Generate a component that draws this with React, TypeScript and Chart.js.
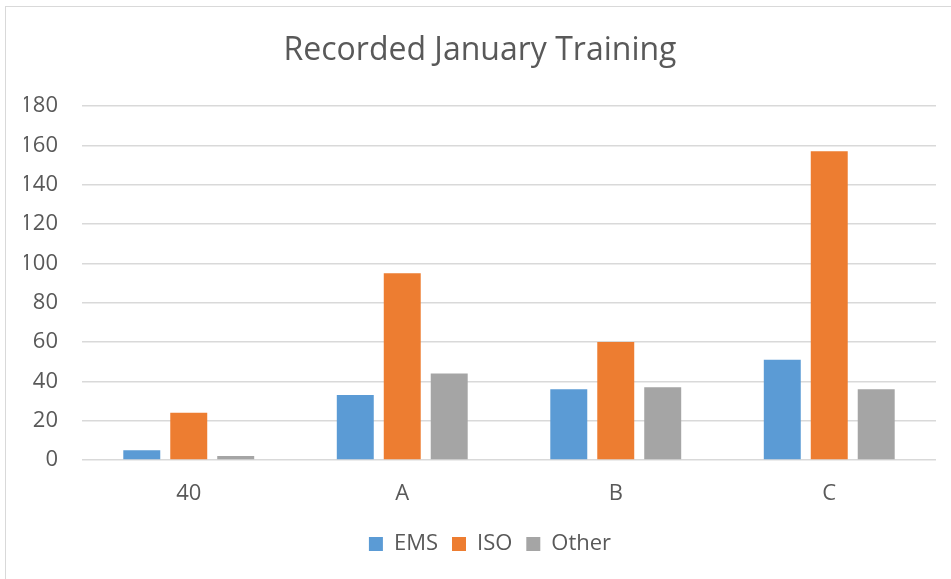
import React, { useEffect, useRef } from "react";
import { Chart, registerables } from "chart.js";

Chart.register(...registerables);

const categories = ["40", "A", "B", "C"];
const emsValues = [5, 33, 36, 51];
const isoValues = [24, 95, 60, 157];
const otherValues = [2, 44, 37, 36];
const seriesNames = ["EMS", "ISO", "Other"];
const yTicks = [0, 20, 40, 60, 80, 100, 120, 140, 160, 180];
const titleText = "Recorded January Training";

const FONT = "'Open Sans', 'Noto Sans', sans-serif";
const TEXT = "#595959";

const legendShift = {
  id: "legendShift",
  afterLayout(chart: any) {
    if (chart.legend) {
      chart.legend.left += 10;
      chart.legend.right += 10;
    }
  },
};

export default function App() {
  const ref = useRef<HTMLCanvasElement | null>(null);

  useEffect(() => {
    if (!ref.current) return;
    const chart = new Chart(ref.current, {
      type: "bar",
      data: {
        labels: categories,
        datasets: [
          { label: seriesNames[0], data: emsValues, backgroundColor: "#5B9BD5" },
          { label: seriesNames[1], data: isoValues, backgroundColor: "#ED7D31" },
          { label: seriesNames[2], data: otherValues, backgroundColor: "#A5A5A5" },
        ],
      },
      plugins: [legendShift],
      options: {
        animation: false,
        responsive: false,
        maintainAspectRatio: false,
        layout: { padding: { left: 14, right: 0, top: 0, bottom: 14 } },
        datasets: {
          bar: { categoryPercentage: 0.66, barPercentage: 0.787 },
        },
        plugins: {
          title: {
            display: true,
            text: titleText,
            color: TEXT,
            font: { family: FONT, size: 32, weight: "normal" },
            padding: { top: 32, bottom: 35.6 },
          },
          legend: {
            position: "bottom",
            labels: {
              color: TEXT,
              font: { family: FONT, size: 22 },
              boxWidth: 14,
              boxHeight: 14,
              padding: 14,
            },
          },
          tooltip: { enabled: false },
        },
        scales: {
          x: {
            grid: { display: false, drawTicks: false },
            border: { display: false },
            ticks: { color: TEXT, font: { family: FONT, size: 22 }, padding: 20.5 },
            afterFit: (s: any) => {
              s.height = 59;
            },
          },
          y: {
            min: 0,
            max: 180,
            afterBuildTicks: (s: any) => {
              s.ticks = yTicks.map((v) => ({ value: v }));
            },
            grid: { color: "#d9d9d9", lineWidth: 1.5, drawTicks: false },
            border: { display: false },
            ticks: { color: TEXT, font: { family: FONT, size: 22 }, padding: 24 },
            afterFit: (s: any) => {
              s.width = 58;
            },
          },
        },
      },
    });
    return () => chart.destroy();
  }, []);

  return (
    <div
      style={{
        position: "fixed",
        left: 0,
        top: 0,
        width: 951,
        height: 579,
        overflow: "hidden",
        background: "#fff",
      }}
    >
      <div
        style={{
          position: "absolute",
          left: 5,
          top: 6,
          width: 1000,
          height: 650,
          borderLeft: "1.5px solid #d9d9d9",
          borderTop: "1.5px solid #d9d9d9",
        }}
      />
      <canvas
        ref={ref}
        width={926}
        height={579}
        style={{ position: "absolute", left: 10, top: 0, width: 926, height: 579 }}
      />
    </div>
  );
}
